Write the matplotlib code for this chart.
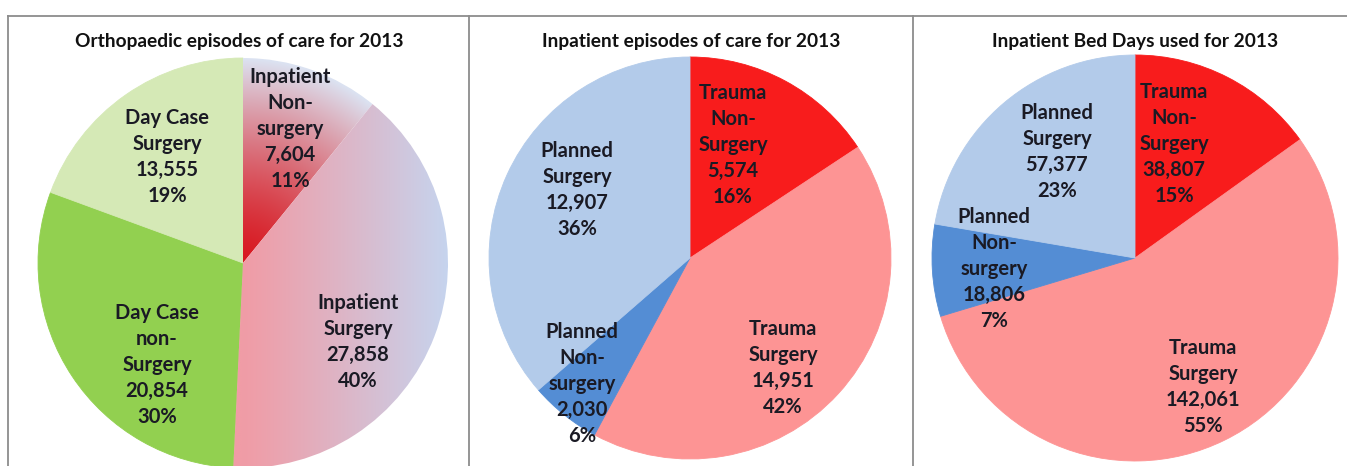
import matplotlib.pyplot as plt
import numpy as np
from matplotlib.colors import to_rgb

plt.rcParams['font.family'] = ['Lato', 'DejaVu Sans']

W, H = 1347, 466

# data
titles = ["Orthopaedic episodes of care for 2013",
          "Inpatient episodes of care for 2013",
          "Inpatient Bed Days used for 2013"]

ortho_names = ["Inpatient\nNon-\nsurgery", "Inpatient\nSurgery", "Day Case\nnon-\nSurgery", "Day Case\nSurgery"]
ortho_values = [7604, 27858, 20854, 13555]
ortho_pct = ["11%", "40%", "30%", "19%"]

inpat_names = ["Trauma\nNon-\nSurgery", "Trauma\nSurgery", "Planned\nNon-\nsurgery", "Planned\nSurgery"]
inpat_values = [5574, 14951, 2030, 12907]
inpat_pct = ["16%", "42%", "6%", "36%"]

beds_names = ["Trauma\nNon-\nSurgery", "Trauma\nSurgery", "Planned\nNon-\nsurgery", "Planned\nSurgery"]
beds_values = [38807, 142061, 18806, 57377]
beds_pct = ["15%", "55%", "7%", "23%"]

# layout (pixels, measured from the top left)
centers = [(243, 263), (690, 258), (1135, 258)]
radii = [205, 201, 203]
title_x = [239, 691, 1135]
title_y = 42
label_pos = [[(290, 129), (358, 342), (157, 365), (167, 157)],
             [(733, 145), (783, 368), (582, 384), (577, 190)],
             [(1174, 144), (1203, 387), (994, 269), (1057, 152)]]

ortho_colors = [None, None, "#92D050", "#D5E9B6"]  # None = gradient fill
trauma_colors = ["#F81C1C", "#FD9494", "#548DD4", "#B3CBEA"]

charts = [(ortho_names, ortho_values, ortho_pct, ortho_colors),
          (inpat_names, inpat_values, inpat_pct, trauma_colors),
          (beds_names, beds_values, beds_pct, trauma_colors)]

fig = plt.figure(figsize=(W / 100, H / 100), dpi=100)
ax = fig.add_axes([0, 0, 1, 1])


def gradient(ax, wedge, cx, cy, r, kind):
    n = 400
    xs = np.linspace(-r, r, n)
    X, Y = np.meshgrid(xs, xs)
    if kind == "radial":
        t = np.clip(np.sqrt(X**2 + Y**2) / r, 0, 1) ** 1.4
        c0, c1 = np.array(to_rgb("#D81820")), np.array(to_rgb("#DCE3F2"))
    else:
        t = np.clip(X / r, 0, 1) ** 1.1
        c0, c1 = np.array(to_rgb("#F09CA6")), np.array(to_rgb("#C6D4EE"))
    img = c0 + (c1 - c0) * t[..., None]
    im = ax.imshow(img, extent=(cx - r, cx + r, cy - r, cy + r), origin="lower",
                   interpolation="bilinear", zorder=1)
    im.set_clip_path(wedge)


for i, (names, values, pct, colors) in enumerate(charts):
    cx, cy = centers[i][0], H - centers[i][1]
    r = radii[i]
    fill = [c if c is not None else "none" for c in colors]
    wedges, _ = ax.pie(values, colors=fill, startangle=90, counterclock=False,
                       center=(cx, cy), radius=r, frame=True,
                       wedgeprops=dict(linewidth=0.6))
    for w, c in zip(wedges, colors):
        w.set_zorder(1)
        w.set_edgecolor(c if c is not None else "none")
    if i == 0:
        gradient(ax, wedges[0], cx, cy, r, "radial")
        gradient(ax, wedges[1], cx, cy, r, "linear")

    ax.text(title_x[i], H - title_y, titles[i], ha="center", va="center",
            fontsize=13.8, fontweight="bold", color="#111111")
    for j in range(len(values)):
        x, y = label_pos[i][j]
        txt = names[j] + "\n" + f"{values[j]:,}" + "\n" + pct[j]
        ax.text(x, H - y, txt, ha="center", va="center", multialignment="center",
                fontsize=14.5, fontweight="bold", color="#1a1a24", linespacing=1.38,
                zorder=5)

# panel borders
ax.plot([8, W], [H - 16, H - 16], color="#8c8c8c", lw=1.3, zorder=6)
for bx in [8, 469, 913]:
    ax.plot([bx, bx], [0, H - 16], color="#8c8c8c", lw=1.3, zorder=6)

ax.set_xlim(0, W)
ax.set_ylim(0, H)
ax.set_aspect("equal")
ax.axis("off")

fig.savefig("out.png", dpi=100)
